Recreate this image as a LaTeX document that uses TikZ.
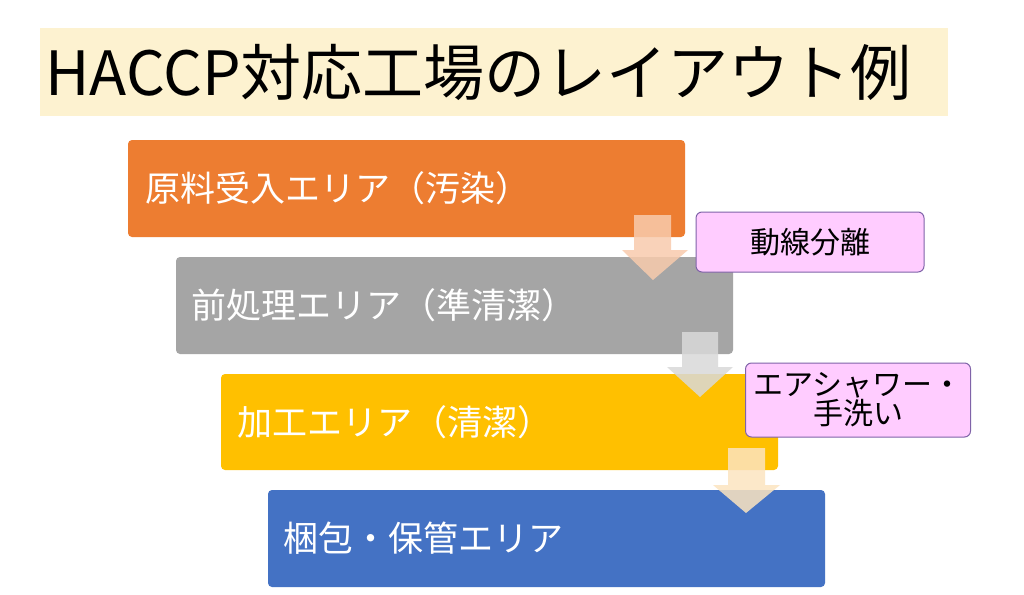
\documentclass[tikz,border=0pt]{standalone}
\usepackage{fontspec}
\setmainfont{Noto Sans CJK JP}
\newcommand{\notefont}{\fontsize{30}{35}\selectfont}
\newcommand{\areafont}{\fontsize{35}{40}\selectfont}
\definecolor{c1}{HTML}{ED7D31}\definecolor{c2}{HTML}{A5A5A5}
\definecolor{c3}{HTML}{FFC000}\definecolor{c4}{HTML}{4472C4}
\definecolor{nb}{HTML}{7F63A8}\definecolor{nf}{HTML}{FFCCFF}
\definecolor{tb}{HTML}{FDF2D0}
\begin{document}
\begin{tikzpicture}[x=1pt,y=-1pt,
  note/.style={draw=nb,line width=1pt,fill=nf,rounded corners=6pt,align=center,inner sep=0pt},
  dn/.style={opacity=0.85}]
\useasboundingbox (0,0) rectangle (1024,594);
\fill[white] (0,0) rectangle (1024,594);
\fill[tb] (40,28) rectangle (948,116);
\node[anchor=west,font=\fontsize{61}{66}\selectfont] (title) at (42,72) {HACCP対応工場のレイアウト例};
\fill[c1,rounded corners=4pt] (128,140) rectangle (685,237);
\node[anchor=west,text=white,font=\areafont] (a1) at (142,188) {原料受入エリア（汚染）};
\fill[c2,rounded corners=4pt] (176,257) rectangle (733,354);
\node[anchor=west,text=white,font=\areafont] (a2) at (188,305) {前処理エリア（準清潔）};
\fill[c3,rounded corners=4pt] (221,374) rectangle (778,470);
\node[anchor=west,text=white,font=\areafont] (a3) at (234,422) {加工エリア（清潔）};
\fill[c4,rounded corners=4pt] (268,490) rectangle (825,587);
\node[anchor=west,text=white,font=\areafont] (a4) at (280,538) {梱包・保管エリア};
\fill[dn,fill={rgb,255:red,248;green,203;blue,173}] (634,215)--(671,215)--(671,250)--(688,250)--(653,280)--(622,250)--(634,250)--cycle;
\fill[dn,fill={rgb,255:red,217;green,217;blue,217}] (682,332)--(718,332)--(718,367)--(733,367)--(700,397)--(667,367)--(682,367)--cycle;
\fill[dn,fill={rgb,255:red,252;green,228;blue,192}] (728,448)--(765,448)--(765,485)--(780,485)--(746,513)--(713,485)--(728,485)--cycle;
\node[note,minimum width=228pt,minimum height=60pt] (n1) at (810,242) {\notefont 動線分離};
\node[note,minimum width=225pt,minimum height=74pt] (n2) at (858,400) {\notefont エアシャワー・\\\notefont 手洗い};
\end{tikzpicture}
\end{document}
